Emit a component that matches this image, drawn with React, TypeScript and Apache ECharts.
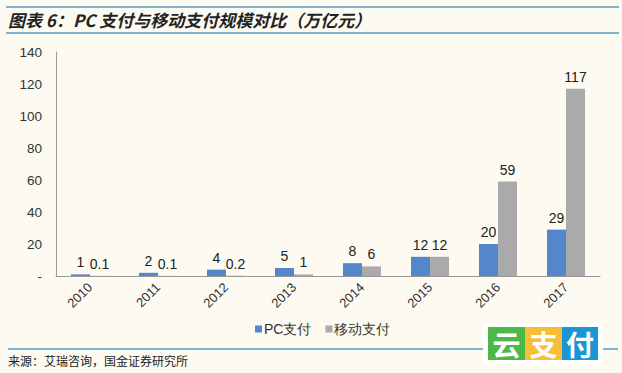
import React, { useEffect, useRef } from "react";
import * as echarts from "echarts";

const categories = ["2010", "2011", "2012", "2013", "2014", "2015", "2016", "2017"];
const pcValues = [1, 2, 4, 5, 8, 12, 20, 29];
const mobileValues = [0.1, 0.1, 0.2, 1, 6, 12, 59, 117];
const seriesNames = ["PC支付", "移动支付"];
const titleText = "图表 6：PC 支付与移动支付规模对比（万亿元）";
const sourceText = "来源：艾瑞咨询，国金证券研究所";
const logoChars = ["云", "支", "付"];

export default function App() {
  const ref = useRef<HTMLDivElement>(null);
  useEffect(() => {
    if (!ref.current) return;
    const chart = echarts.init(ref.current, null, { renderer: "svg" });
    const lineColor = "#7fb3d2";
    const logoColors = ["#4cb848", "#f7be3a", "#1a96d4"];
    const logoX = [488, 525, 562];
    const logoW = [37, 37, 36];
    chart.setOption({
      animation: false,
      backgroundColor: "#fdfbf1",
      textStyle: { fontFamily: "Liberation Sans, Arial, sans-serif" },
      grid: { left: 56, right: 22, top: 52, bottom: 97 },
      legend: {
        data: seriesNames,
        left: 250,
        top: 317,
        itemWidth: 7,
        itemHeight: 7,
        itemGap: 14,
        icon: "rect",
        textStyle: { fontSize: 14, color: "#333", padding: [0, 0, 0, -3] },
      },
      xAxis: {
        type: "category",
        data: categories,
        axisLine: { lineStyle: { color: "#999" } },
        axisTick: { show: false },
        axisLabel: { rotate: 45, fontSize: 13, color: "#333", margin: 9 },
      },
      yAxis: {
        type: "value",
        min: 0,
        max: 140,
        interval: 20,
        splitLine: { show: false },
        axisLine: { show: true, lineStyle: { color: "#999" } },
        axisTick: { show: false },
        axisLabel: {
          fontSize: 13.5,
          color: "#333",
          margin: 14,
          formatter: (v: number) => (v === 0 ? "-" : String(v)),
        },
      },
      series: [
        {
          name: seriesNames[0],
          type: "bar",
          data: pcValues,
          barWidth: 19,
          barGap: "0%",
          itemStyle: { color: "#5486cc" },
          label: { show: true, position: "top", fontSize: 14, color: "#222", distance: 5 },
        },
        {
          name: seriesNames[1],
          type: "bar",
          data: mobileValues,
          barWidth: 19,
          barGap: "0%",
          itemStyle: { color: "#aaaaaa" },
          label: { show: true, position: "top", fontSize: 14, color: "#222", distance: 5 },
        },
      ],
      graphic: [
        { type: "line", shape: { x1: 6, y1: 7, x2: 619, y2: 7 }, style: { stroke: lineColor, lineWidth: 2 } },
        { type: "line", shape: { x1: 6, y1: 33, x2: 619, y2: 33 }, style: { stroke: lineColor, lineWidth: 2 } },
        {
          type: "text",
          left: 8,
          top: 11,
          style: {
            text: titleText,
            font: "italic bold 17px 'Noto Sans CJK SC', sans-serif",
            fill: "#222",
          },
        },
        { type: "line", shape: { x1: 8, y1: 349, x2: 484, y2: 349 }, style: { stroke: lineColor, lineWidth: 2 } },
        { type: "line", shape: { x1: 602, y1: 349, x2: 618, y2: 349 }, style: { stroke: lineColor, lineWidth: 2 } },
        {
          type: "text",
          left: 8,
          top: 354,
          style: {
            text: sourceText,
            font: "12px 'Noto Sans CJK SC', serif",
            fill: "#222",
          },
        },
        { type: "rect", shape: { x: 483, y: 323, width: 120, height: 41 }, style: { fill: "#ffffff" } },
        ...logoChars.flatMap((c, i) => [
          {
            type: "rect",
            shape: { x: logoX[i], y: 327, width: logoW[i], height: 33 },
            style: { fill: logoColors[i] },
          },
          {
            type: "text",
            x: logoX[i] + logoW[i] / 2,
            y: 343.5,
            style: {
              text: c,
              font: "bold 28px 'Noto Sans CJK SC', sans-serif",
              fill: "#ffffff",
              align: "center",
              verticalAlign: "middle",
            },
          },
        ]),
      ],
    });
    return () => chart.dispose();
  }, []);
  return <div ref={ref} style={{ width: 622, height: 373, position: "absolute", left: 0, top: 0 }} />;
}
